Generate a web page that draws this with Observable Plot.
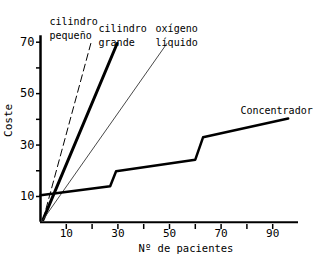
<!DOCTYPE html>
<html>
<head>
<meta charset="utf-8">
<script src="https://cdn.jsdelivr.net/npm/d3@7"></script>
<script src="https://cdn.jsdelivr.net/npm/@observablehq/plot@0.6"></script>
<style>
  html, body { margin: 0; padding: 0; background: #fff; overflow: hidden; }
</style>
</head>
<body>
<div id="chart"></div>
<script>
// Series: patients (x) vs cost (y)
const pequenoX = [1, 19.5];
const pequenoY = [1, 69.5];
const grandeX = [1, 29.7];
const grandeY = [1, 69.5];
const oxigenoX = [1, 49];
const oxigenoY = [1, 69.5];
const concX = [0, 27, 29.3, 60, 63, 96];
const concY = [10.5, 14, 19.8, 24.3, 33, 40.3];

const yTicks = [10, 20, 30, 40, 50, 60, 70];
const xTicks = [10, 20, 30, 40, 50, 60, 70, 80, 90];
const yLabelTicks = [10, 30, 50, 70];
const xLabelTicks = [10, 30, 50, 70, 90];

const seriesNames = ["cilindro\npequeño", "cilindro\ngrande", "oxígeno\nlíquido", "Concentrador"];
const yTitle = "Coste";
const xTitle = "Nº de pacientes";

const toPts = (xs, ys) => xs.map((x, i) => ({x, y: ys[i]}));
const pequeno = toPts(pequenoX, pequenoY);
const grande = toPts(grandeX, grandeY);
const oxigeno = toPts(oxigenoX, oxigenoY);
const conc = toPts(concX, concY);

const mono = "'DejaVu Sans Mono', monospace";

const chart = Plot.plot({
  width: 313,
  height: 254,
  style: {fontFamily: mono, background: "#fff", color: "#000"},
  x: {type: "linear", domain: [0, 100], range: [40, 298], axis: null, label: null},
  y: {type: "linear", domain: [0, 70], range: [221.7, 41.7], axis: null, label: null},
  marks: [
    // axis lines
    Plot.ruleY([0], {x1: 0, x2: 100, stroke: "#000", strokeWidth: 2}),
    Plot.ruleX([0], {y1: 0, y2: 72.5, stroke: "#000", strokeWidth: 2.5}),
    Plot.axisY(yTicks, {tickSize: 4, tickFormat: d => yLabelTicks.includes(d) ? String(d) : "", fontSize: 12, tickPadding: 2, strokeWidth: 1.5, anchor: "left", label: null}),
    Plot.axisX(xTicks, {tickSize: 5, tickFormat: d => xLabelTicks.includes(d) ? String(d) : "", fontSize: 11, tickPadding: 0, strokeWidth: 1.5, anchor: "bottom", label: null}),
    // series
    Plot.line(pequeno, {x: "x", y: "y", stroke: "#000", strokeWidth: 1, strokeDasharray: "7,4"}),
    Plot.line(grande, {x: "x", y: "y", stroke: "#000", strokeWidth: 3}),
    Plot.line(oxigeno, {x: "x", y: "y", stroke: "#333", strokeWidth: 0.9}),
    Plot.line(conc, {x: "x", y: "y", stroke: "#000", strokeWidth: 2.5}),
    // labels
    Plot.text([seriesNames[0]], {x: () => 3.5, y: () => 75.7, text: d => d, textAnchor: "start", lineAnchor: "middle", fontSize: 10, lineHeight: 1.4, fill: "#000"}),
    Plot.text([seriesNames[1]], {x: () => 22.5, y: () => 73.0, text: d => d, textAnchor: "start", lineAnchor: "middle", fontSize: 10, lineHeight: 1.4, fill: "#000"}),
    Plot.text([seriesNames[2]], {x: () => 44.6, y: () => 73.0, text: d => d, textAnchor: "start", lineAnchor: "middle", fontSize: 10, lineHeight: 1.4, fill: "#000"}),
    Plot.text([seriesNames[3]], {x: () => 77.5, y: () => 43.4, text: d => d, textAnchor: "start", lineAnchor: "middle", fontSize: 10, fill: "#000"}),
    // axis titles
    Plot.text([yTitle], {x: () => -12.4, y: () => 39.6, text: d => d, rotate: -90, fontSize: 11, fill: "#000"}),
    Plot.text([xTitle], {x: () => 56.4, y: () => -8.5, text: d => d, lineAnchor: "top", fontSize: 10.5, fill: "#000"})
  ]
});
document.getElementById("chart").appendChild(chart);
</script>
</body>
</html>
